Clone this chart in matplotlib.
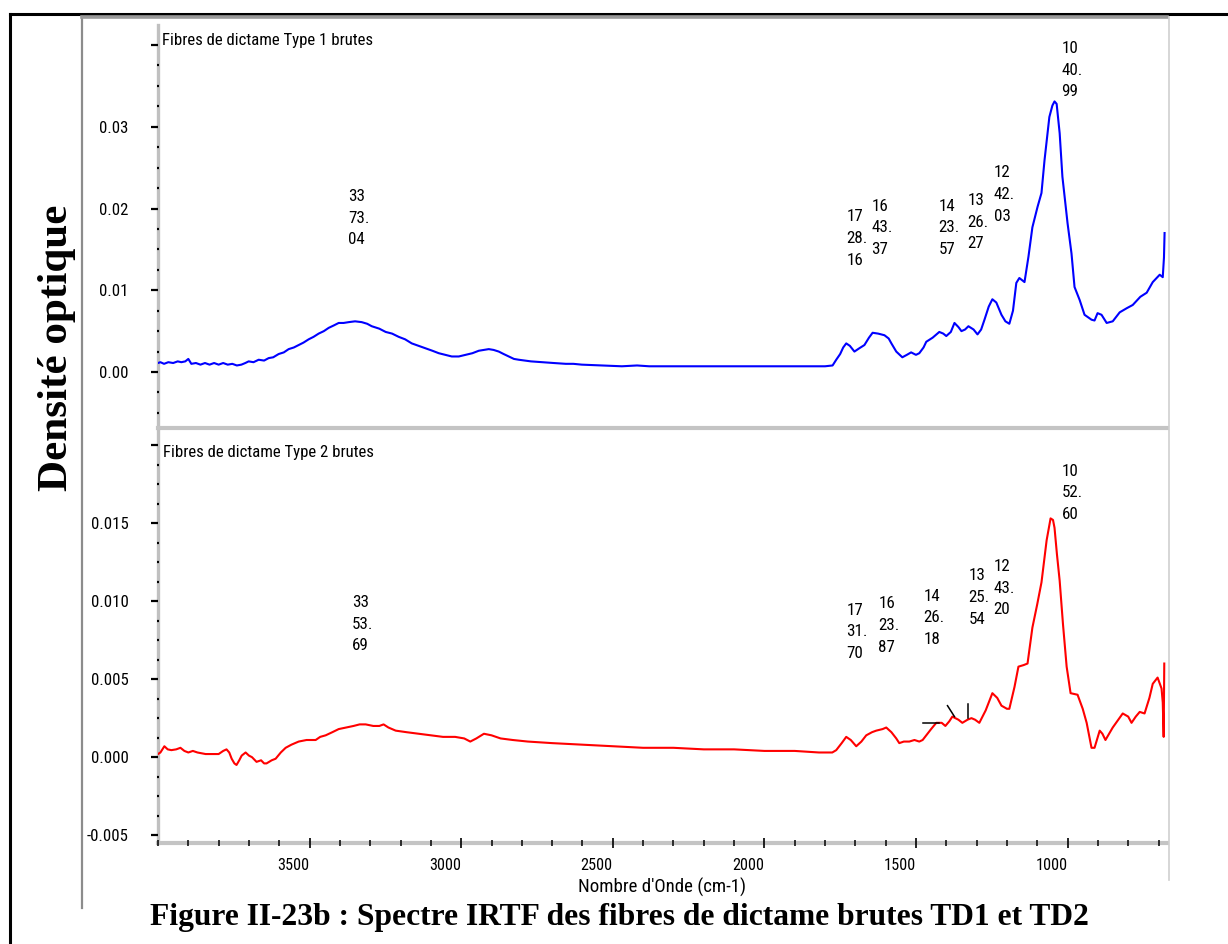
import matplotlib
matplotlib.use("Agg")
import matplotlib.pyplot as plt
from matplotlib.lines import Line2D
from matplotlib.ticker import MultipleLocator, FixedLocator, FixedFormatter
from matplotlib import font_manager as fm

# ---- data ----
td1_wn = [4000, 3992, 3980, 3966, 3950, 3935, 3923, 3910, 3900, 3890, 3875, 3860, 3845,
          3830, 3815, 3800, 3785, 3770, 3755, 3740, 3725, 3712, 3701, 3685, 3668, 3650,
          3635, 3620, 3602, 3585, 3569, 3552, 3536, 3520, 3503, 3487, 3470, 3453, 3437,
          3420, 3404, 3388, 3371, 3350, 3328, 3310, 3295, 3270, 3249, 3228, 3206, 3185,
          3163, 3140, 3117, 3095, 3074, 3052, 3031, 3008, 2985, 2963, 2942, 2925, 2909,
          2893, 2876, 2860, 2843, 2826, 2810, 2770, 2734, 2695, 2655, 2630, 2602, 2540,
          2470, 2420, 2380, 2300, 2200, 2100, 2000, 1900, 1800, 1775, 1763, 1750, 1740,
          1730, 1718, 1703, 1687, 1670, 1655, 1643, 1625, 1604, 1590, 1581, 1565, 1545,
          1530, 1516, 1500, 1489, 1475, 1466, 1445, 1423, 1410, 1400, 1385, 1373, 1360,
          1350, 1338, 1327, 1310, 1297, 1285, 1274, 1260, 1248, 1235, 1218, 1205, 1192,
          1180, 1169, 1159, 1142, 1129, 1116, 1099, 1086, 1076, 1060, 1050, 1043, 1036,
          1026, 1017, 1000, 987, 977, 960, 944, 921, 911, 901, 888, 871, 851, 828, 805,
          785, 760, 739, 719, 696, 686, 682, 680]
td1_abs = [0.0011, 0.0012, 0.0010, 0.0012, 0.0011, 0.0013, 0.0012, 0.0013, 0.0016, 0.0010,
           0.0011, 0.0009, 0.0011, 0.0009, 0.0011, 0.0009, 0.0011, 0.0009, 0.0010, 0.0008,
           0.0009, 0.0011, 0.0013, 0.0012, 0.0015, 0.0014, 0.0017, 0.0018, 0.0022, 0.0024,
           0.0028, 0.0030, 0.0033, 0.0036, 0.0040, 0.0043, 0.0047, 0.0050, 0.0054, 0.0057,
           0.0060, 0.0060, 0.0061, 0.0062, 0.0061, 0.0059, 0.0056, 0.0053, 0.0049, 0.0047,
           0.0043, 0.0040, 0.0035, 0.0032, 0.0029, 0.0026, 0.0023, 0.0021, 0.0019, 0.0019,
           0.0021, 0.0023, 0.0026, 0.0027, 0.0028, 0.0027, 0.0025, 0.0022, 0.0019, 0.0016,
           0.0015, 0.0013, 0.0012, 0.0011, 0.0010, 0.0010, 0.0009, 0.0008, 0.0007, 0.0008,
           0.0007, 0.0007, 0.0007, 0.0007, 0.0007, 0.0007, 0.0007, 0.0008, 0.0015, 0.0022,
           0.0030, 0.0035, 0.0032, 0.0025, 0.0029, 0.0033, 0.0042, 0.0048, 0.0047, 0.0045,
           0.0041, 0.0035, 0.0025, 0.0018, 0.0021, 0.0024, 0.0021, 0.0023, 0.0030, 0.0037,
           0.0042, 0.0049, 0.0047, 0.0044, 0.0049, 0.0060, 0.0055, 0.0050, 0.0052, 0.0056,
           0.0052, 0.0046, 0.0052, 0.0064, 0.0080, 0.0089, 0.0085, 0.0070, 0.0062, 0.0059,
           0.0075, 0.0109, 0.0115, 0.0110, 0.0141, 0.0177, 0.0202, 0.0219, 0.0259, 0.0312,
           0.0326, 0.0331, 0.0328, 0.0292, 0.0239, 0.0182, 0.0145, 0.0104, 0.0088, 0.0070,
           0.0064, 0.0063, 0.0072, 0.0070, 0.0060, 0.0062, 0.0073, 0.0078, 0.0082, 0.0092,
           0.0097, 0.0110, 0.0119, 0.0116, 0.0140, 0.0170]

td2_wn = [4000, 3992, 3979, 3968, 3956, 3940, 3926, 3913, 3900, 3885, 3870, 3843, 3820,
          3800, 3785, 3774, 3765, 3757, 3748, 3741, 3732, 3724, 3711, 3700, 3690, 3675,
          3660, 3650, 3642, 3625, 3612, 3595, 3579, 3560, 3536, 3510, 3480, 3465, 3447,
          3425, 3404, 3380, 3355, 3335, 3315, 3290, 3270, 3256, 3240, 3216, 3180, 3140,
          3100, 3060, 3020, 2990, 2970, 2950, 2925, 2900, 2870, 2830, 2780, 2700, 2600,
          2500, 2400, 2300, 2200, 2100, 2000, 1900, 1820, 1776, 1763, 1745, 1730, 1715,
          1697, 1680, 1664, 1645, 1631, 1610, 1598, 1581, 1565, 1555, 1540, 1522, 1505,
          1489, 1478, 1466, 1450, 1433, 1415, 1403, 1390, 1380, 1360, 1347, 1330, 1317,
          1305, 1291, 1270, 1248, 1232, 1218, 1200, 1192, 1175, 1162, 1145, 1132, 1116,
          1100, 1086, 1069, 1056, 1048, 1043, 1035, 1026, 1015, 1003, 990, 967, 950, 937,
          921, 911, 894, 885, 875, 851, 818, 800, 789, 775, 762, 746, 730, 719, 703, 690,
          686, 683, 681]
td2_abs = [0.0002, 0.0003, 0.0007, 0.0005, 0.00045, 0.0005, 0.0006, 0.0004, 0.0003, 0.0004,
           0.0003, 0.0002, 0.0002, 0.0002, 0.0004, 0.0005, 0.0003, -0.0001, -0.0004, -0.0005,
           -0.0002, 0.0001, 0.0003, 0.0001, 0.0000, -0.0003, -0.0002, -0.0004, -0.0004, -0.0002,
           -0.0001, 0.0003, 0.0006, 0.0008, 0.0010, 0.0011, 0.0011, 0.0013, 0.0014, 0.0016,
           0.0018, 0.0019, 0.0020, 0.0021, 0.0021, 0.0020, 0.0020, 0.0021, 0.0019, 0.0017,
           0.0016, 0.0015, 0.0014, 0.0013, 0.0013, 0.0012, 0.0010, 0.0012, 0.0015, 0.0014,
           0.0012, 0.0011, 0.0010, 0.0009, 0.0008, 0.0007, 0.0006, 0.0006, 0.0005, 0.0005,
           0.0004, 0.0004, 0.0003, 0.0003, 0.00045, 0.0009, 0.0013, 0.0011, 0.0007, 0.0010,
           0.0014, 0.0016, 0.0017, 0.0018, 0.0019, 0.0016, 0.0012, 0.0009, 0.0010, 0.0010,
           0.0011, 0.0010, 0.0011, 0.0014, 0.0018, 0.0022, 0.0022, 0.0020, 0.0023, 0.0026,
           0.0024, 0.0022, 0.0024, 0.0025, 0.0024, 0.0022, 0.0030, 0.0041, 0.0038, 0.0033,
           0.0031, 0.0031, 0.0045, 0.0058, 0.0059, 0.0060, 0.0083, 0.0098, 0.0112, 0.0139,
           0.0153, 0.0152, 0.0147, 0.0130, 0.0113, 0.0085, 0.0058, 0.0041, 0.0040, 0.0031,
           0.0022, 0.0006, 0.0006, 0.0017, 0.0015, 0.0011, 0.0019, 0.0028, 0.0026, 0.0022,
           0.0026, 0.0029, 0.0028, 0.0038, 0.0047, 0.0051, 0.0044, 0.0035, 0.0013, 0.0060]

td1_peaks = ["3373.04", "1728.16", "1643.37", "1423.57", "1326.27", "1242.03", "1040.99"]
td2_peaks = ["3353.69", "1731.70", "1623.87", "1426.18", "1325.54", "1243.20", "1052.60"]

# label anchor (x in cm-1, y in absorbance) for each peak label
td1_label_pos = [(3374, 0.0224), (1730, 0.0199), (1647, 0.0212), (1426, 0.0212),
                 (1330, 0.0219), (1244, 0.0253), (1020, 0.0405)]
td2_label_pos = [(3361, 0.0104), (1730, 0.0099), (1624, 0.0103), (1476, 0.0108),
                 (1327, 0.0121), (1244, 0.0127), (1020, 0.0188)]
td2_leaders = [((1476, 1423), (0.0022, 0.0022)), ((1396, 1373), (0.0033, 0.0026)),
               ((1327, 1327), (0.0034, 0.0025))]

# ---- fonts: a narrow Arial-like face if there is one ----
installed = {f.name for f in fm.fontManager.ttflist
             if f.style == "normal" and f.weight == 400}
SANS = "Liberation Sans"
for n in ["Liberation Sans Narrow", "Arial Narrow", "Roboto Condensed", "PT Sans Narrow",
          "Archivo Narrow"]:
    if n in installed:
        SANS = n
        break
SERIF = "Liberation Serif"


def sans(size):
    return fm.FontProperties(family=SANS, size=size)


W, H = 1228, 944
fig = plt.figure(figsize=(W / 100, H / 100), dpi=100)
renderer = fig.canvas.get_renderer()


def fit(text, target_px, fp):
    # font size that gives the text the width it has in the reference
    fp = fp.copy()
    fp.set_size(10)
    t = fig.text(0, 0, text, fontproperties=fp)
    w = t.get_window_extent(renderer=renderer).width
    t.remove()
    return 10 * target_px / w


def fx(x):
    return x / W


def fy(y):
    return 1 - y / H


def fig_line(xs, ys, **kw):
    fig.add_artist(Line2D([fx(v) for v in xs], [fy(v) for v in ys],
                          transform=fig.transFigure, **kw))


ytick_size = fit("0.015", 37, sans(10))
xtick_size = fit("3500", 32, sans(10))
note_size = fit("28.", 21, sans(10))
title_size = fit("Fibres de dictame Type 1 brutes", 209, sans(10))
xlabel_size = fit("Nombre d'Onde (cm-1)", 167, sans(10))
serif_b = fm.FontProperties(family=SERIF, weight="bold")
cap_size = fit("Figure II-23b : Spectre IRTF des fibres de dictame brutes TD1 et TD2", 942, serif_b)
ylab_size = fit("Densité optique", 287, serif_b)

# outer frames
fig_line([10, 10], [14, 944], color="black", lw=2.2)
fig_line([10, 1228], [14, 14], color="black", lw=2.2)
fig_line([82, 82], [17, 908], color="#8c8c8c", lw=1.6)
fig_line([82, 1167], [17, 17], color="#9a9a9a", lw=2.6)
fig_line([1169, 1169], [17, 880], color="#cfcfcf", lw=1.2)

ax1 = fig.add_axes([fx(158), fy(428), fx(1167) - fx(158), fy(25) - fy(428)])
ax2 = fig.add_axes([fx(158), fy(843), fx(1167) - fx(158), fy(431) - fy(843)])

ax1.plot(td1_wn, td1_abs, color="#0000ff", lw=1.5)
ax2.plot(td2_wn, td2_abs, color="#ff0000", lw=1.5)
for xs, ys in td2_leaders:
    ax2.plot(xs, ys, color="black", lw=1.1)

for ax, ylim, major, minor, fmt in [
        (ax1, (-0.00685, 0.04245), [0, 0.01, 0.02, 0.03, 0.04], 0.0025, "{:.2f}"),
        (ax2, (-0.0055, 0.0209), [-0.005, 0, 0.005, 0.010, 0.015, 0.020], 0.00125, "{:.3f}")]:
    ax.set_xlim(4000, 672)
    ax.set_ylim(*ylim)
    ax.set_axisbelow(False)
    for s in ["top", "right"]:
        ax.spines[s].set_visible(False)
    for s in ["left", "bottom"]:
        ax.spines[s].set_zorder(0.8)
    ax.spines["left"].set_color("#c0c0c0")
    ax.spines["left"].set_linewidth(2.4)
    ax.spines["bottom"].set_color("#c4c4c4")
    ax.spines["bottom"].set_linewidth(3.0)
    ax.yaxis.set_major_locator(FixedLocator(major))
    labels = [fmt.format(v) if v != major[-1] else "" for v in major]
    ax.yaxis.set_major_formatter(FixedFormatter(labels))
    ax.yaxis.set_minor_locator(MultipleLocator(minor))
    ax.tick_params(axis="y", which="major", direction="out", length=5, width=1.6,
                   color="black", pad=16)
    ax.tick_params(axis="y", which="minor", direction="inout", length=1.8, width=1.6,
                   color="black")
    for lab in ax.get_yticklabels():
        lab.set_fontproperties(sans(ytick_size))
    ax.set_facecolor("none")

ax1.tick_params(axis="x", which="both", bottom=False, labelbottom=False)
ax2.xaxis.set_minor_locator(MultipleLocator(100))
ax2.set_xticks([3500, 3000, 2500, 2000, 1500, 1000])
ax2.set_xticklabels(["3500", "3000", "2500", "2000", "1500", "1000"], ha="right",
                    fontproperties=sans(xtick_size))
ax2.tick_params(axis="x", which="major", direction="inout", length=7, width=1.2,
                color="black", pad=7)
ax2.tick_params(axis="x", which="minor", direction="inout", length=4.5, width=1.1,
                color="black")
ax2.set_xlabel("Nombre d'Onde (cm-1)", fontproperties=sans(xlabel_size), labelpad=4)


def stacked(s):
    return s[:2] + "\n" + s[2:5] + "\n" + s[5:]


note_ls = 26.5 / (note_size * 100 / 72)
for ax, peaks, pos in [(ax1, td1_peaks, td1_label_pos), (ax2, td2_peaks, td2_label_pos)]:
    for p, (x, y) in zip(peaks, pos):
        ax.text(x, y, stacked(p), ha="left", va="top", fontproperties=sans(note_size),
                linespacing=note_ls)

fig.text(fx(162), fy(45), "Fibres de dictame Type 1 brutes", fontproperties=sans(title_size),
         va="baseline", ha="left")
fig.text(fx(163), fy(457), "Fibres de dictame Type 2 brutes", fontproperties=sans(title_size),
         va="baseline", ha="left")

fig.text(fx(57), fy(348), "Densité optique", family=SERIF, weight="bold", size=ylab_size,
         rotation=90, ha="center", va="center")
fig.text(fx(619), fy(917), "Figure II-23b : Spectre IRTF des fibres de dictame brutes TD1 et TD2",
         family=SERIF, weight="bold", size=cap_size, ha="center", va="center")

fig.savefig("out.png", dpi=100)
